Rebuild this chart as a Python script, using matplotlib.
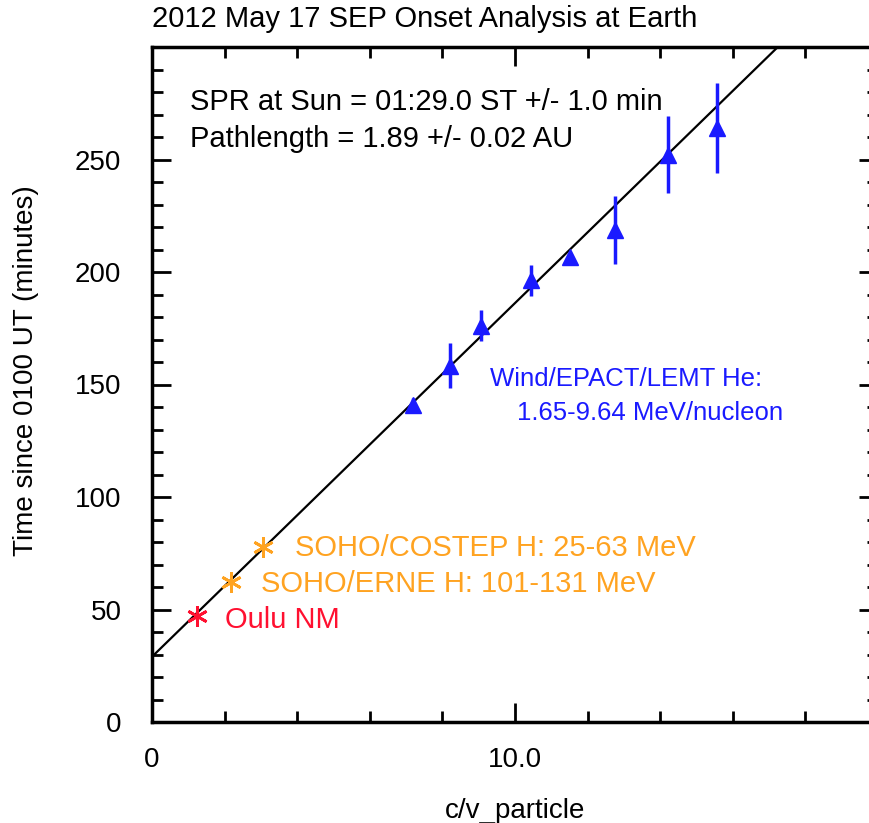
import matplotlib
matplotlib.use("Agg")
import matplotlib.pyplot as plt
import numpy as np
from matplotlib.ticker import MultipleLocator, FixedLocator

plt.rcParams['font.family'] = ['Liberation Sans', 'DejaVu Sans']

# Wind/EPACT/LEMT He onsets
he_x = [7.19, 8.21, 9.06, 10.44, 11.52, 12.75, 14.21, 15.56]
he_y = [140.9, 158.3, 176.2, 196.3, 206.6, 218.7, 252.2, 263.9]
he_err = [3, 10, 7, 7, 2, 15, 17, 20]

# Proton / neutron monitor onsets
oulu_x, oulu_y = [1.24], [47.0]
erne_x, erne_y = [2.18], [62.2]
costep_x, costep_y = [3.06], [77.8]

# Velocity dispersion fit: release time and path length
t0_min = 29.0          # minutes after 01:00 UT
path_au = 1.89
au_light_min = 8.317
slope = path_au * au_light_min

x_ticks = [0, 10]
x_ticklabels = ["0", "10.0"]
y_ticks = [0, 50, 100, 150, 200, 250]

blue = "#1a1aff"
orange = "#ffa321"
red = "#ff1030"

fig = plt.figure(figsize=(8.7, 8.23), dpi=100)
ax = fig.add_axes([152/870, 1 - 722/823, (878 - 152)/870, (722 - 47)/823])
ax.set_xlim(0, 20)
ax.set_ylim(0, 300)

xf = np.array([0, 20])
ax.plot(xf, t0_min + slope * xf, color="black", lw=1.6, zorder=2)

ax.errorbar(he_x, he_y, yerr=he_err, fmt="^", color=blue, ms=12,
            elinewidth=2.5, capsize=0, zorder=3)
ast = (6, 2, 0)
ax.plot(oulu_x, oulu_y, marker=ast, ls="none", color=red, ms=15, mew=2, zorder=4)
ax.plot(erne_x, erne_y, marker=ast, ls="none", color=orange, ms=15, mew=2, zorder=4)
ax.plot(costep_x, costep_y, marker=ast, ls="none", color=orange, ms=15, mew=2, zorder=4)

fs = 20
fl = 21
ax.text(3.95, 77.5, "SOHO/COSTEP H: 25-63 MeV", color=orange, fontsize=fl, va="center")
ax.text(3.0, 61.5, "SOHO/ERNE H: 101-131 MeV", color=orange, fontsize=fl, va="center")
ax.text(2.0, 45.5, "Oulu NM", color=red, fontsize=fl, va="center")
ax.text(9.3, 152.5, "Wind/EPACT/LEMT He:", color=blue, fontsize=18.5, va="center")
ax.text(10.05, 137.5, "1.65-9.64 MeV/nucleon", color=blue, fontsize=18.5, va="center")
ax.text(1.05, 275.5, "SPR at Sun = 01:29.0 ST +/- 1.0 min", color="black", fontsize=fl, va="center")
ax.text(1.05, 259, "Pathlength = 1.89 +/- 0.02 AU", color="black", fontsize=fl, va="center")

ax.xaxis.set_major_locator(FixedLocator(x_ticks))
ax.set_xticklabels(x_ticklabels)
ax.xaxis.set_minor_locator(MultipleLocator(2))
ax.yaxis.set_major_locator(FixedLocator(y_ticks))
ax.yaxis.set_minor_locator(MultipleLocator(10))

ax.tick_params(which="both", direction="in", top=True, right=True,
               labelsize=fs, width=2, colors="black")
ax.tick_params(which="major", length=14)
ax.tick_params(axis="x", which="major", pad=18)
ax.tick_params(axis="y", which="major", pad=22)
ax.tick_params(which="minor", length=8)
for s in ax.spines.values():
    s.set_linewidth(2.5)

ax.set_xlabel("c/v_particle", fontsize=fs, labelpad=18)
ax.set_ylabel("Time since 0100 UT (minutes)", fontsize=fs)
ax.yaxis.set_label_coords((39 - 152) / 726, (722 - 371) / 675)
fig.text(152/870, 1 - 19/823, "2012 May 17 SEP Onset Analysis at Earth",
         fontsize=fl, ha="left", va="center")

fig.savefig("out.png", dpi=100)
